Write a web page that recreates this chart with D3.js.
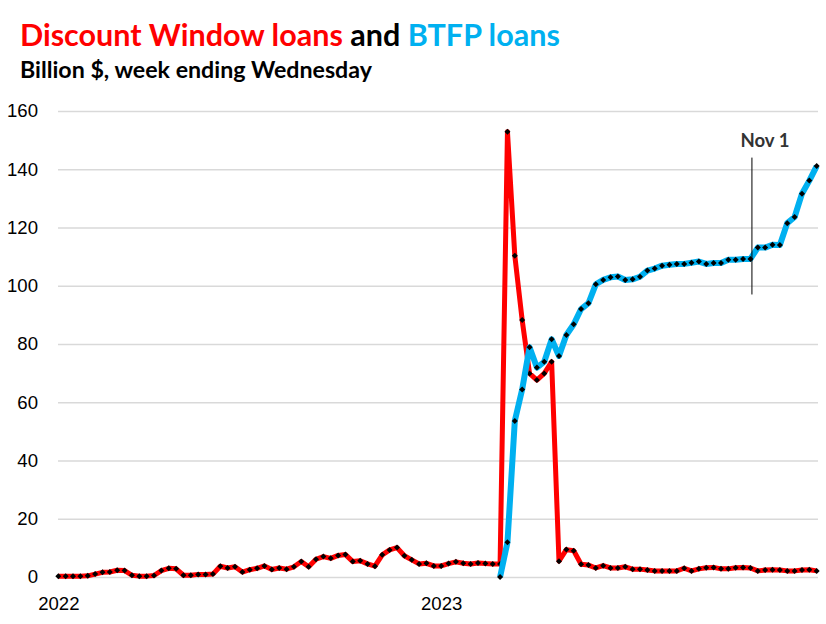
<!DOCTYPE html>
<html lang="en">
<style>
body { margin: 0; background: #fff; }
svg { font-family: Lato, "Noto Sans", sans-serif; }
.grid line { stroke: #d9d9d9; stroke-width: 1.5px; }
.axis text { fill: #000; }
</style>
<script type="text/javascript" src="https://d3js.org/d3.v7.min.js"></script>
<body>
<script type="text/javascript">

// Chart size
var width = 826,
    height = 624;

// Weeks ending Wednesday, Jan 12 2022 to Jan 3 2024
var weeks = d3.timeWednesday.range(new Date(2022, 0, 12), new Date(2024, 0, 4));

// Discount Window loans, billion $
var discountWindow = [
  0.3, 0.3, 0.3, 0.3, 0.4, 1.0, 1.6, 1.7, 2.3, 2.2,
  0.6, 0.3, 0.3, 0.5, 2.2, 3.0, 2.8, 0.6, 0.6, 0.9,
  0.9, 1.0, 3.7, 3.1, 3.5, 1.7, 2.5, 3.0, 3.8, 2.6,
  3.1, 2.7, 3.5, 5.3, 3.5, 6.1, 7.0, 6.4, 7.4, 7.7,
  5.3, 5.6, 4.5, 3.7, 7.6, 9.3, 10.1, 7.3, 5.9, 4.5,
  4.7, 3.8, 3.8, 4.6, 5.2, 4.7, 4.5, 4.8, 4.6, 4.5,
  4.5, 152.9, 110.3, 88.2, 69.9, 67.6, 69.9, 73.9, 5.4, 9.4,
  9.0, 4.4, 4.1, 3.1, 3.9, 3.1, 3.1, 3.5, 2.7, 2.7,
  2.4, 2.1, 2.1, 2.1, 2.1, 3.0, 2.1, 2.8, 3.2, 3.3,
  2.8, 2.8, 3.2, 3.3, 3.1, 2.1, 2.4, 2.5, 2.4, 2.1,
  2.1, 2.4, 2.5, 2.1
];

// BTFP loans, billion $ (programme starts week of Mar 8 2023)
var btfp = Array(60).fill(null).concat([
  0, 11.9, 53.6, 64.4, 78.9, 71.9, 73.9, 81.6, 75.9, 83.1,
  86.8, 92.0, 94.0, 100.5, 102.0, 102.9, 103.2, 102.0, 102.2, 103.1,
  105.2, 105.9, 106.9, 107.2, 107.5, 107.5, 107.9, 108.3, 107.5, 107.8,
  107.8, 108.9, 108.9, 109.2, 109.2, 113.1, 113.1, 114.1, 114.0, 121.5,
  123.6, 131.6, 136.1, 141.1
]);

// Axis ticks
var yTicks = [0, 20, 40, 60, 80, 100, 120, 140, 160];
var xTickWeeks = [0, 52];              // index of week carrying a year label
var markerWeek = new Date(2023, 10, 1); // Nov 1
var markerRange = [97, 144];

var svg = d3.select("body")
    .append("svg")
    .attr("width", width)
    .attr("height", height);

var x = d3.scaleTime()
    .domain([weeks[0], weeks[weeks.length - 1]])
    .range([58.3, 816.7]);

var y = d3.scaleLinear()
    .domain([0, 160])
    .range([577, 111]);

// fit a text element to a target width (no Calibri here)
function fitWidth(sel, target) {
  var w = sel.node().getComputedTextLength();
  var fs = parseFloat(sel.style("font-size"));
  sel.style("font-size", (fs * target / w) + "px");
  return fs * target / w;
}

// Title
var title = svg.append("text")
    .attr("x", 20)
    .attr("y", 45.5)
    .style("font-weight", "bold")
    .style("font-size", "28px");
title.append("tspan").attr("fill", "#ff0000").text("Discount Window loans");
title.append("tspan").attr("fill", "#000").text(" and ");
title.append("tspan").attr("fill", "#00b0f0").text("BTFP loans");
fitWidth(title, 540);

var subtitle = svg.append("text")
    .attr("x", 20)
    .attr("y", 77.5)
    .style("font-weight", "bold")
    .style("font-size", "20px")
    .text("Billion $, week ending Wednesday");
fitWidth(subtitle, 352);

// Y gridlines and labels
var yAxis = svg.append("g")
    .attr("class", "axis grid")
    .attr("transform", "translate(58,0)")
    .call(d3.axisLeft(y)
        .tickValues(yTicks)
        .tickSize(-760)
        .tickPadding(20));
yAxis.select(".domain").remove();
var probe = yAxis.selectAll("text").filter(function(d) { return d === 160; });
probe.style("font-size", "18px");
var tickFs = fitWidth(probe, 31);
yAxis.selectAll("text").style("font-size", tickFs + "px");

// X labels
var xAxis = svg.append("g")
    .attr("class", "axis")
    .attr("transform", "translate(0,577)")
    .call(d3.axisBottom(x)
        .tickValues(xTickWeeks.map(function(i) { return weeks[i]; }))
        .tickFormat(d3.timeFormat("%Y"))
        .tickSize(0)
        .tickPadding(20));
xAxis.select(".domain").remove();
xAxis.selectAll("text").style("font-size", tickFs + "px");

// Series
var series = [
  { values: discountWindow, color: "#ff0000", width: 5 },
  { values: btfp, color: "#00b0f0", width: 6 }
];

var line = d3.line()
    .defined(function(d) { return d.v != null; })
    .x(function(d) { return x(d.date); })
    .y(function(d) { return y(d.v); });

var diamond = d3.symbol().type(d3.symbolSquare).size(18);

series.forEach(function(s) {
  var pts = s.values.map(function(v, i) { return { date: weeks[i], v: v }; });

  svg.append("path")
      .datum(pts)
      .attr("fill", "none")
      .attr("stroke", s.color)
      .attr("stroke-width", s.width)
      .attr("stroke-linejoin", "round")
      .attr("d", line);

  svg.append("g")
    .selectAll("path")
    .data(pts.filter(function(d) { return d.v != null; }))
    .enter().append("path")
      .attr("d", diamond)
      .attr("fill", "#000")
      .attr("transform", function(d) {
        return "translate(" + x(d.date) + "," + y(d.v) + ") rotate(45)";
      });
});

// Nov 1 marker
svg.append("line")
    .attr("x1", x(markerWeek) + 1.5)
    .attr("x2", x(markerWeek) + 1.5)
    .attr("y1", y(markerRange[1]))
    .attr("y2", y(markerRange[0]))
    .attr("stroke", "#000")
    .attr("stroke-width", 1);

var nov = svg.append("text")
    .attr("x", 765)
    .attr("y", 147)
    .attr("text-anchor", "middle")
    .attr("fill", "#333")
    .style("font-weight", "bold")
    .style("font-size", "17px")
    .text("Nov 1");
fitWidth(nov, 49);

</script>
</body>
</html>
